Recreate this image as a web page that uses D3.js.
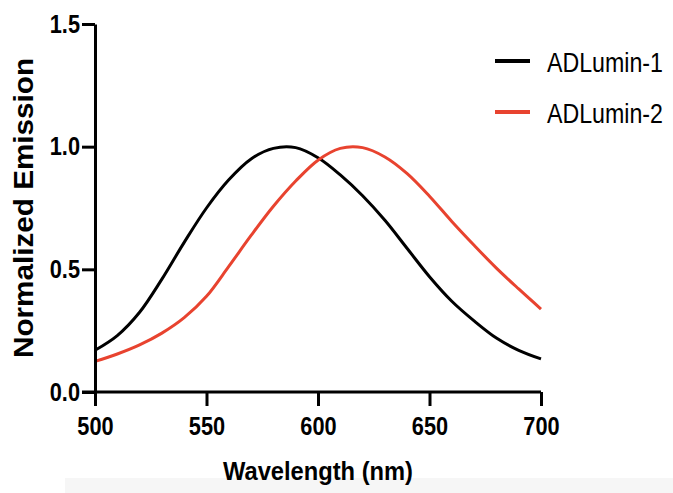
<!DOCTYPE html>
<html>
<head>
<meta charset="utf-8">
<script src="https://cdn.jsdelivr.net/npm/d3@7"></script>
<style>
  body { margin: 0; background: #fff; }
  text { font-family: "Liberation Sans", Arial, Helvetica, sans-serif; }
</style>
</head>
<body>
<div id="chart-area"></div>
<script>
// emission spectra
var wavelengths = [500,510,520,530,540,550,560,570,580,590,600,610,620,630,640,650,660,670,680,690,700];
var adlumin1 = [0.17,0.23,0.325,0.46,0.61,0.75,0.865,0.95,0.993,0.996,0.955,0.885,0.80,0.70,0.585,0.47,0.37,0.29,0.22,0.17,0.135];
var adlumin2 = [0.125,0.155,0.192,0.24,0.303,0.39,0.512,0.638,0.757,0.86,0.945,0.993,0.996,0.958,0.89,0.798,0.695,0.598,0.505,0.42,0.338];
var seriesNames = ['ADLumin-1','ADLumin-2'];
var seriesColors = ['#000000','#e8432f'];
var xTicks = [500,550,600,650,700];
var yTicks = [0,0.5,1.0,1.5];

var svgWidth = 673, svgHeight = 493;
var margin = {left:95, right:132, top:24, bottom:101};
var width = svgWidth - margin.left - margin.right;
var height = svgHeight - margin.top - margin.bottom;

var svg = d3.select('#chart-area')
  .append('svg')
  .attr('width', svgWidth)
  .attr('height', svgHeight);

// faint grey strip at the bottom of the picture
svg.append('rect')
  .attr('x', 65).attr('y', 478)
  .attr('width', svgWidth - 65).attr('height', svgHeight - 478)
  .attr('fill', '#f6f6f6');

var g = svg.append('g').attr('transform', 'translate(' + margin.left + ',' + margin.top + ')');

var xScale = d3.scaleLinear().domain([500,700]).range([0,width]);
var yScale = d3.scaleLinear().domain([0,1.5]).range([height,0]);

// squeeze text horizontally like the reference
function squeeze(sel, ratio) {
  sel.each(function() {
    var len = this.getComputedTextLength();
    d3.select(this).attr('textLength', len * ratio).attr('lengthAdjust', 'spacingAndGlyphs');
  });
}

// lines
var line = d3.line()
  .x(function(d){ return xScale(d[0]); })
  .y(function(d){ return yScale(d[1]); })
  .curve(d3.curveCatmullRom);

[adlumin1, adlumin2].forEach(function(vals, i) {
  g.append('path')
    .datum(wavelengths.map(function(w, j){ return [w, vals[j]]; }))
    .attr('fill', 'none')
    .attr('stroke', seriesColors[i])
    .attr('stroke-width', 3)
    .attr('d', line);
});

// axes
var xAxis = d3.axisBottom(xScale).tickValues(xTicks).tickSize(14).tickSizeOuter(0).tickPadding(11);
var xg = g.append('g')
  .attr('transform', 'translate(0,' + height + ')')
  .call(xAxis);

var yAxis = d3.axisLeft(yScale).tickValues(yTicks).tickFormat(d3.format('.1f')).tickSize(13).tickSizeOuter(0).tickPadding(2);
var yg = g.append('g').call(yAxis);

[xg, yg].forEach(function(ax) {
  ax.selectAll('path, line').attr('stroke', '#000').attr('stroke-width', 3);
  ax.selectAll('text')
    .attr('fill', '#000')
    .style('font-size', '25px')
    .style('font-weight', 'bold');
  squeeze(ax.selectAll('text'), 0.87);
});
xg.select('.domain').attr('d', 'M' + (-13) + ',0H' + width);

// axis titles
svg.append('text')
  .attr('x', 318).attr('y', 480)
  .attr('text-anchor', 'middle')
  .style('font-size', '25px').style('font-weight', 'bold')
  .attr('textLength', 190).attr('lengthAdjust', 'spacingAndGlyphs')
  .text('Wavelength (nm)');

svg.append('text')
  .attr('transform', 'translate(33,208) rotate(-90)')
  .attr('text-anchor', 'middle')
  .style('font-size', '28px').style('font-weight', 'bold')
  .attr('textLength', 300).attr('lengthAdjust', 'spacingAndGlyphs')
  .text('Normalized Emission');

// legend
var legend = svg.append('g').selectAll('g').data(seriesNames).enter().append('g')
  .attr('transform', function(d, i){ return 'translate(495,' + (61 + i * 51) + ')'; });
legend.append('line')
  .attr('x1', 0).attr('x2', 35)
  .attr('stroke', function(d, i){ return seriesColors[i]; })
  .attr('stroke-width', 4);
legend.append('text')
  .attr('x', 52).attr('y', 11)
  .style('font-size', '27px')
  .attr('textLength', 116).attr('lengthAdjust', 'spacingAndGlyphs')
  .text(function(d){ return d; });
</script>
</body>
</html>
